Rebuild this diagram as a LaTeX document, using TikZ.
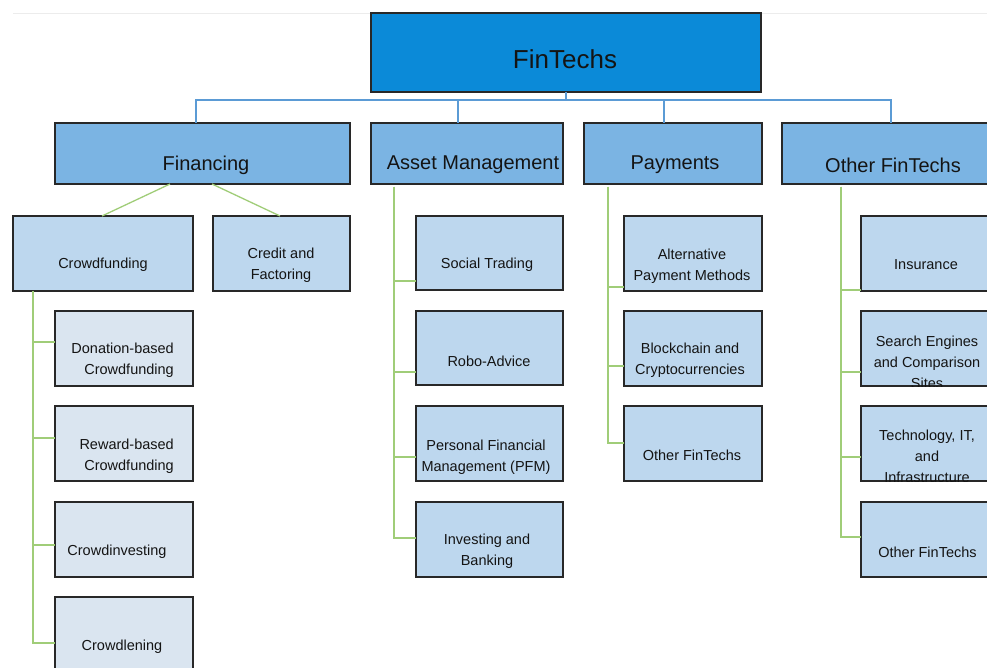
\documentclass[tikz,border=0pt]{standalone}
\usepackage{fontspec}
\setmainfont{Liberation Sans}
\usetikzlibrary{calc}
\definecolor{rootc}{RGB}{11,138,216}
\definecolor{lvla}{RGB}{123,180,227}
\definecolor{lvlb}{RGB}{189,215,238}
\definecolor{lvlc}{RGB}{218,229,240}
\definecolor{bline}{RGB}{91,155,213}
\definecolor{gline}{RGB}{160,205,120}
\definecolor{bord}{RGB}{40,40,40}
\definecolor{txt}{RGB}{20,20,20}
\newcommand\mybox[6]{\node[#1,anchor=north west,minimum width={(#5-#3)*1pt},minimum height={(#6-#4)*1pt}] (#2) at (#3,#4) {};}
\begin{document}
\begin{tikzpicture}[x=1pt,y=-1pt,
  bx/.style={draw=bord,line width=1.3pt,inner sep=0pt,outer sep=0pt,rectangle},
  rootbox/.style={bx,fill=rootc},
  onebox/.style={bx,fill=lvla},
  twobox/.style={bx,fill=lvlb},
  threebox/.style={bx,fill=lvlc},
  bl/.style={draw=bline,line width=1.3pt},
  gl/.style={draw=gline,line width=1.3pt},
  troot/.style={text=txt,font=\fontsize{26}{30}\selectfont,inner sep=0pt,yshift=-1.5pt},
  tone/.style={text=txt,font=\fontsize{20}{24}\selectfont,inner sep=0pt,yshift=-2pt},
  ttwo/.style={text=txt,font=\fontsize{14.5}{21}\selectfont,inner sep=0pt,align=center,yshift=-1.5pt},
]
\clip (0,0) rectangle (987,668);
\fill[white] (0,0) rectangle (987,668);
\draw[gray!15,line width=0.8pt] (13,13) -- (987,13);

% boxes
\mybox{rootbox}{root}{371}{13}{761}{92}
\mybox{onebox}{fin}{55}{123}{350}{184}
\mybox{onebox}{am}{371}{123}{563}{184}
\mybox{onebox}{pay}{584}{123}{762}{184}
\mybox{onebox}{oth}{782}{123}{1004}{184}

\mybox{twobox}{cf}{13}{216}{193}{291}
\mybox{twobox}{cr}{213}{216}{350}{291}
\mybox{threebox}{d1}{55}{311}{193}{386}
\mybox{threebox}{d2}{55}{406}{193}{481}
\mybox{threebox}{d3}{55}{502}{193}{577}
\mybox{threebox}{d4}{55}{597}{193}{672}

\mybox{twobox}{a1}{416}{216}{563}{290}
\mybox{twobox}{a2}{416}{311}{563}{385}
\mybox{twobox}{a3}{416}{406}{563}{481}
\mybox{twobox}{a4}{416}{502}{563}{577}

\mybox{twobox}{p1}{624}{216}{762}{291}
\mybox{twobox}{p2}{624}{311}{762}{386}
\mybox{twobox}{p3}{624}{406}{762}{481}

\mybox{twobox}{o1}{861}{216}{993}{291}
\mybox{twobox}{o2}{861}{311}{993}{386}
\mybox{twobox}{o3}{861}{406}{993}{481}
\mybox{twobox}{o4}{861}{502}{993}{577}

% texts
\node[troot] (troot) at (565,58) {FinTechs};
\node[tone] (tfin) at (206,163) {Financing};
\node[tone] (tam) at (473,163) {Asset Management};
\node[tone] (tpay) at (675,163) {Payments};
\node[tone] (toth) at (893,163) {Other FinTechs};

\node[ttwo] (tcf) at (103,263) {Crowdfunding};
\node[ttwo] (tcr) at (281,263.5) {Credit and\\Factoring};
\node[ttwo,align=right,anchor=east] (td1) at (174,358.5) {Donation-based\\Crowdfunding};
\node[ttwo,align=right,anchor=east] (td2) at (174,454.5) {Reward-based\\Crowdfunding};
\node[ttwo] (td3) at (117,550) {Crowdinvesting};
\node[ttwo] (td4) at (122,645) {Crowdlening};

\node[ttwo] (ta1) at (487,263) {Social Trading};
\node[ttwo] (ta2) at (489,360) {Robo-Advice};
\node[ttwo] (ta3) at (486,456) {Personal Financial\\Management (PFM)};
\node[ttwo] (ta4) at (487,549.5) {Investing and\\Banking};

\node[ttwo] (tp1) at (692,264.5) {Alternative\\Payment Methods};
\node[ttwo] (tp2) at (690,358.5) {Blockchain and\\Cryptocurrencies};
\node[ttwo] (tp3) at (692,454) {Other FinTechs};

\node[ttwo] (to1) at (926,263) {Insurance};
\begin{scope}
\clip (o2.north west) rectangle (o2.south east);
\node[ttwo] (to2) at (927,361) {Search Engines\\and Comparison\\Sites};
\end{scope}
\begin{scope}
\clip (o3.north west) rectangle (o3.south east);
\node[ttwo] (to3) at (927,455) {Technology, IT,\\and\\Infrastructure};
\end{scope}
\node[ttwo] (to4) at (927.5,551) {Other FinTechs};

% blue connectors
\coordinate (bus) at ($(root.south)+(0,8)$);
\draw[bl] (root.south) -- (bus);
\draw[bl] ([xshift=-6.5pt]fin.north) |- (bus);
\draw[bl] ([xshift=-9pt]am.north) |- (bus);
\draw[bl] ([xshift=-9pt]pay.north) |- (bus);
\draw[bl] ([xshift=-2pt]oth.north) |- (bus);

% green connectors: financing
\draw[gl] ([xshift=-32.5pt]fin.south) -- ([xshift=-1pt]cf.north);
\draw[gl] ([xshift=9.5pt]fin.south) -- ([xshift=-1.5pt]cr.north);

\coordinate (tcfc) at ([xshift=-70pt]cf.south);
\draw[gl] (tcfc) |- ([yshift=6.5pt]d1.west);
\draw[gl] (tcfc) |- ([yshift=5.5pt]d2.west);
\draw[gl] (tcfc) |- ([yshift=-5.5pt]d3.west);
\draw[gl] (tcfc) |- ([yshift=-8.5pt]d4.west);

\coordinate (tamc) at ([xshift=-73pt,yshift=-3pt]am.south);
\draw[gl] (tamc) |- ([yshift=-28pt]a1.west);
\draw[gl] (tamc) |- ([yshift=-24pt]a2.west);
\draw[gl] (tamc) |- ([yshift=-13.5pt]a3.west);
\draw[gl] (tamc) |- ([yshift=1.5pt]a4.west);

\coordinate (tpayc) at ([xshift=-65pt,yshift=-3pt]pay.south);
\draw[gl] (tpayc) |- ([yshift=-33.5pt]p1.west);
\draw[gl] (tpayc) |- ([yshift=-17.5pt]p2.west);
\draw[gl] (tpayc) |- ([yshift=0.5pt]p3.west);

\coordinate (tothc) at ([xshift=-52pt,yshift=-3pt]oth.south);
\draw[gl] (tothc) |- ([yshift=-36.5pt]o1.west);
\draw[gl] (tothc) |- ([yshift=-23.5pt]o2.west);
\draw[gl] (tothc) |- ([yshift=-13.5pt]o3.west);
\draw[gl] (tothc) |- ([yshift=2.5pt]o4.west);
\end{tikzpicture}
\end{document}
